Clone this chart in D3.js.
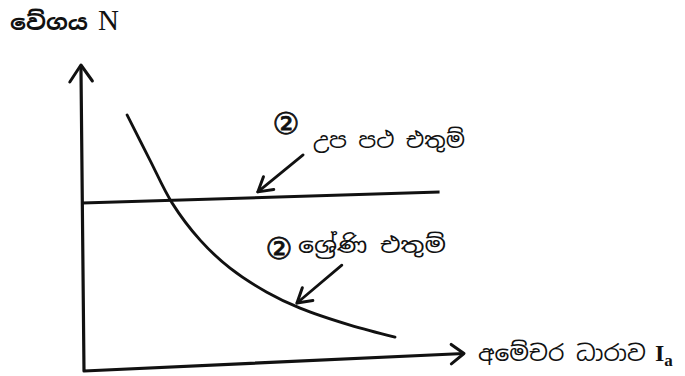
<!DOCTYPE html>
<html>
<head>
<meta charset="utf-8">
<script src="https://cdn.jsdelivr.net/npm/d3@7"></script>
<style>
  body { margin: 0; background: #fff; }
  svg { display: block; }
</style>
</head>
<body>
<svg id="chart-container" width="685" height="376"></svg>
<script>
// motor speed (N) against armature current (Ia), sketch values
// units are arbitrary, 0..100 on both axes
var shuntCurrent = [0, 94];
var shuntSpeed = [54.9, 53.1];

var seriesCurrent = [12.0, 17.9, 23.6, 30.9, 38.7, 48.3, 57.0, 70.1, 81.9];
var seriesSpeed = [83.0, 67.9, 53.6, 41.0, 31.4, 23.0, 17.3, 11.0, 6.4];

var yLabel = "වේගය";
var yUnit = "N";
var xLabel = "අමේචර ධාරාව";
var xUnit = "I";
var xUnitSub = "a";

// label text + arrow tail/head in data units
var notes = [
    { mark: "②", text: "උප පථ එතුම්", tail: [58.2, 67.3], head: [46.2, 55.9] },
    { mark: "②", text: "ශ්‍රේණි එතුම්", tail: [68.1, 30.7], head: [56.2, 19.0] }
];

var svg = d3.select("#chart-container");
var ink = "#111";

// hand drawn axes lean a little, so the plot gets a small skew
var g = svg.append("g")
    .attr("transform", "translate(84,371) matrix(1,-0.046,0.01,1,0,0)");

var x = d3.scaleLinear().domain([0, 100]).range([0, 380]);
var y = d3.scaleLinear().domain([0, 100]).range([0, -306]);

// open "V" arrow head at (tx,ty) coming from (fx,fy)
function arrowHead(sel, fx, fy, tx, ty, len, ang) {
    var a = Math.atan2(ty - fy, tx - fx);
    var p1 = [tx - len * Math.cos(a - ang), ty - len * Math.sin(a - ang)];
    var p2 = [tx - len * Math.cos(a + ang), ty - len * Math.sin(a + ang)];
    sel.append("path")
        .attr("d", d3.line()([p1, [tx, ty], p2]))
        .attr("fill", "none")
        .attr("stroke", ink)
        .attr("stroke-width", 3)
        .attr("stroke-linecap", "round")
        .attr("stroke-linejoin", "round");
}

// axes
var axes = g.append("g");
axes.append("path")
    .attr("d", d3.line()([[x(0), y(100)], [x(0), y(0)], [x(100), y(0)]]))
    .attr("fill", "none")
    .attr("stroke", ink)
    .attr("stroke-width", 3.2)
    .attr("stroke-linejoin", "round");
arrowHead(axes, x(0), y(0), x(0), y(100), 20, 0.6);
arrowHead(axes, x(0), y(0), x(100), y(0), 16, 0.65);

// shunt winding line
g.append("path")
    .datum(d3.zip(shuntCurrent, shuntSpeed))
    .attr("d", d3.line().x(d => x(d[0])).y(d => y(d[1])))
    .attr("fill", "none")
    .attr("stroke", ink)
    .attr("stroke-width", 3);

// series winding curve
g.append("path")
    .datum(d3.zip(seriesCurrent, seriesSpeed))
    .attr("d", d3.line().curve(d3.curveCatmullRom).x(d => x(d[0])).y(d => y(d[1])))
    .attr("fill", "none")
    .attr("stroke", ink)
    .attr("stroke-width", 2.8)
    .attr("stroke-linecap", "round");

// pointer arrows
notes.forEach(n => {
    var t = [x(n.tail[0]), y(n.tail[1])];
    var h = [x(n.head[0]), y(n.head[1])];
    g.append("path")
        .attr("d", d3.line()([t, h]))
        .attr("stroke", ink)
        .attr("stroke-width", 2.8)
        .attr("stroke-linecap", "round");
    arrowHead(g, t[0], t[1], h[0], h[1], 16, 0.55);
});

// texts
var sinFont = "'Noto Sans Sinhala', 'Noto Sans', sans-serif";
var serif = "'Liberation Serif', 'DejaVu Serif', serif";

svg.append("text")
    .attr("x", 10).attr("y", 30)
    .attr("font-family", sinFont).attr("font-size", 22).attr("font-weight", "bold")
    .attr("textLength", 78).attr("lengthAdjust", "spacingAndGlyphs")
    .attr("fill", ink)
    .text(yLabel);
svg.append("text")
    .attr("x", 98).attr("y", 30)
    .attr("font-family", serif).attr("font-size", 29)
    .attr("fill", ink)
    .text(yUnit);

svg.append("text")
    .attr("x", 478).attr("y", 361)
    .attr("font-family", sinFont).attr("font-size", 22)
    .attr("textLength", 168).attr("lengthAdjust", "spacingAndGlyphs")
    .attr("fill", ink)
    .text(xLabel);
var ia = svg.append("text")
    .attr("x", 655).attr("y", 361)
    .attr("font-family", serif).attr("font-size", 24).attr("font-weight", "bold")
    .attr("fill", ink);
ia.append("tspan").text(xUnit);
ia.append("tspan").attr("dy", 5).attr("font-size", 17).text(xUnitSub);

// note labels
var notePos = [
    { mx: 286, my: 134, tx: 313, ty: 148, w: 152 },
    { mx: 279, my: 259, tx: 298, ty: 253, w: 148 }
];
notes.forEach((n, i) => {
    var p = notePos[i];
    svg.append("text")
        .attr("x", p.mx).attr("y", p.my)
        .attr("text-anchor", "middle")
        .attr("font-family", "'DejaVu Sans', sans-serif").attr("font-size", 30)
        .attr("stroke", ink).attr("stroke-width", 0.8)
        .attr("fill", ink)
        .text(n.mark);
    svg.append("text")
        .attr("x", p.tx).attr("y", p.ty)
        .attr("font-family", sinFont).attr("font-size", 22)
        .attr("textLength", p.w).attr("lengthAdjust", "spacingAndGlyphs")
        .attr("fill", ink)
        .text(n.text);
});
</script>
</body>
</html>
